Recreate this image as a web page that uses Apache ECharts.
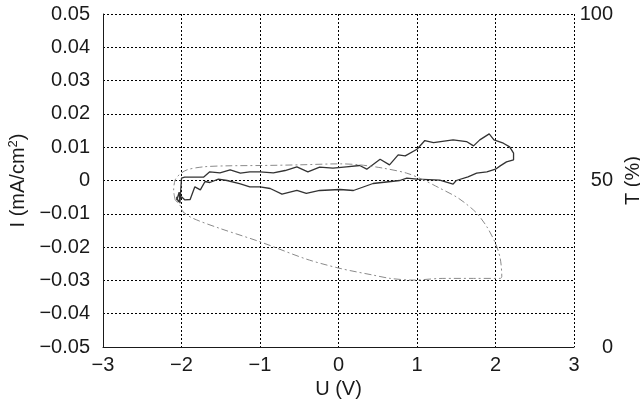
<!DOCTYPE html>
<html>
<head>
<meta charset="utf-8">
<script src="https://cdn.jsdelivr.net/npm/echarts@6/dist/echarts.min.js"></script>
<style>
  html, body { margin: 0; padding: 0; background: #fff; }
  #chart { width: 640px; height: 401px; }
</style>
</head>
<body>
<div id="chart"></div>
<script>
  // 电流曲线 I (mA/cm2) vs U (V)
  const uCurrent = [-2.06, -2.03, -2.02, -2.00, -1.96, -1.72, -1.64, -1.51, -1.38, -1.25, -1.13, -1.00, -0.83, -0.68, -0.53, -0.39, -0.24, -0.07, 0.10, 0.27, 0.36, 0.53, 0.65, 0.76, 0.85, 1.00, 1.10, 1.21, 1.46, 1.63, 1.72, 1.80, 1.92, 1.98, 2.10, 2.18, 2.23, 2.23, 2.14, 2.06, 2.00, 1.89, 1.76, 1.65, 1.50, 1.46, 1.29, 1.00, 0.87, 0.78, 0.44, 0.19, 0.02, -0.24, -0.41, -0.53, -0.72, -0.87, -1.00, -1.13, -1.25, -1.42, -1.53, -1.64, -1.70, -1.76, -1.83, -1.89, -1.96, -2.00, -2.04, -2.06, -2.06]
  const iCurrent = [-0.0059, -0.0035, -0.0068, 0.0007, 0.0010, 0.0010, 0.0026, 0.0023, 0.0032, 0.0022, 0.0026, 0.0026, 0.0023, 0.0030, 0.0041, 0.0026, 0.0040, 0.0037, 0.0041, 0.0045, 0.0034, 0.0064, 0.0047, 0.0077, 0.0074, 0.0094, 0.0120, 0.0114, 0.0122, 0.0117, 0.0104, 0.0122, 0.0140, 0.0122, 0.0112, 0.0101, 0.0082, 0.0062, 0.0056, 0.0044, 0.0034, 0.0026, 0.0022, 0.0011, 0.0000, -0.0011, 0.0001, 0.0004, 0.0007, 0.0000, -0.0009, -0.0030, -0.0027, -0.0030, -0.0039, -0.0030, -0.0041, -0.0024, -0.0019, -0.0019, -0.0010, 0.0000, 0.0004, -0.0006, -0.0003, -0.0028, -0.0019, -0.0057, -0.0058, -0.0049, -0.0064, -0.0049, -0.0059]

  // 透过率曲线 T (%) vs U (V)
  const uTrans = [-2.08, -2.10, -2.08, -2.03, -1.93, -1.72, -1.42, -1.00, -0.50, 0.02, 0.27, 0.57, 0.87, 1.08, 1.29, 1.50, 1.63, 1.76, 1.89, 2.00, 2.06, 2.08, 2.06, 1.72, 1.33, 0.95, 0.66, 0.44, 0.02, -0.41, -1.00, -1.51, -1.85, -1.98, -2.02, -2.08]
  const tTrans = [44.1, 47.1, 50.2, 51.7, 53.2, 54.1, 54.4, 54.5, 54.7, 55.0, 54.7, 53.7, 52.2, 50.2, 47.7, 45.1, 42.9, 40.2, 36.1, 31.1, 26.6, 21.1, 20.6, 20.6, 20.6, 20.1, 20.6, 21.6, 23.6, 26.4, 31.6, 35.6, 38.6, 40.6, 42.6, 44.1]

  // 坐标轴范围 [min, max, interval]
  const uRange = [-3, 3, 1]
  const iRange = [-0.05, 0.05, 0.01]
  const tRange = [0, 100, 50]

  const zip = (xs, ys) => xs.map((x, k) => [x, ys[k]])
  const minus = s => String(s).replace('-', '\u2212')
  const font = 'Liberation Sans, Arial, Helvetica, sans-serif'
  const ink = '#1a1a1a'
  const dotted = { show: true, lineStyle: { color: '#000', width: 1, type: [2, 2] } }

  const option = {
    animation: false,
    grid: { left: 103, right: 66, top: 14, bottom: 54, outerBoundsMode: 'none', containLabel: false },
    xAxis: {
      type: 'value',
      min: uRange[0], max: uRange[1], interval: uRange[2],
      name: 'U (V)', nameLocation: 'middle', nameGap: 32,
      nameTextStyle: { fontFamily: font, fontSize: 20, color: ink },
      axisLine: { show: true, onZero: false, lineStyle: { color: ink, width: 1 } },
      axisTick: { show: false },
      axisLabel: { fontFamily: font, fontSize: 20, color: ink, margin: 8, formatter: v => minus(v) },
      splitLine: dotted
    },
    yAxis: [{
      type: 'value',
      min: iRange[0], max: iRange[1], interval: iRange[2],
      name: 'I (mA/cm{sup|2})', nameLocation: 'middle', nameGap: 73, nameRotate: 90,
      nameTextStyle: {
        fontFamily: font, fontSize: 20, color: ink,
        rich: { sup: { fontFamily: font, fontSize: 13, color: ink, padding: [0, 0, 10, 0] } }
      },
      axisLine: { show: true, onZero: false, lineStyle: { color: ink, width: 1 } },
      axisTick: { show: false },
      axisLabel: {
        fontFamily: font, fontSize: 20, color: ink, margin: 13,
        formatter: v => Math.abs(v) < 1e-9 ? '0' : minus(v.toFixed(2))
      },
      splitLine: dotted
    }, {
      type: 'value',
      position: 'right',
      min: tRange[0], max: tRange[1], interval: tRange[2],
      name: 'T (%)', nameLocation: 'middle', nameGap: 46, nameRotate: 90,
      nameTextStyle: { fontFamily: font, fontSize: 20, color: ink },
      axisLine: { show: false },
      axisTick: { show: false },
      axisLabel: { fontFamily: font, fontSize: 20, color: ink, margin: 39, align: 'right' },
      splitLine: { show: false }
    }],
    series: [{
      type: 'line',
      data: zip(uCurrent, iCurrent),
      showSymbol: false,
      lineStyle: { color: '#333', width: 1.3 }
    }, {
      type: 'line',
      yAxisIndex: 1,
      data: zip(uTrans, tTrans),
      showSymbol: false,
      smooth: 0.3,
      lineStyle: { color: '#8a8a8a', width: 1, type: [7, 3, 2, 3] }
    }]
  }

  const chart = echarts.init(document.getElementById('chart'))
  chart.setOption(option)
</script>
</body>
</html>
